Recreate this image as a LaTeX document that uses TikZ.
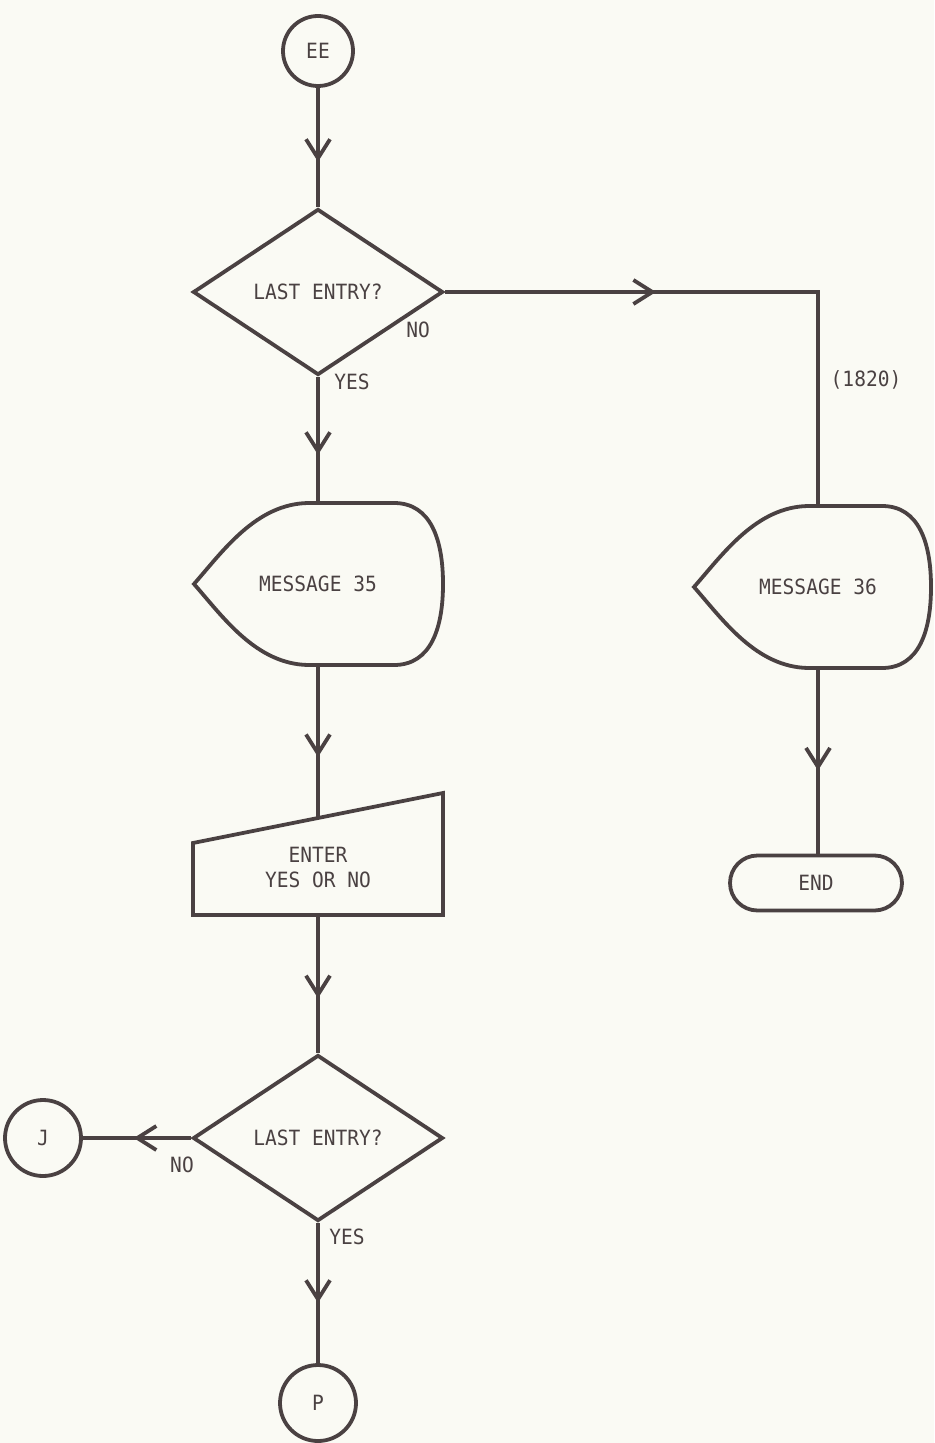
\documentclass[tikz,border=0pt]{standalone}
\usepackage{fontspec}
\setmainfont{DejaVu Sans Mono}[FakeStretch=0.93]
\usepackage{tikz}
\usetikzlibrary{arrows.meta,shapes.geometric,shapes.misc,decorations.markings}

\definecolor{paper}{HTML}{FAFAF4}
\definecolor{ink}{HTML}{4A4142}

\tikzset{barb/.tip={Straight Barb[length=9.5pt,width=12pt]}}

% outline of a display box round a node, #2 = right half width
\newcommand{\msgoutline}[2]{%
  \draw[flow, shift={(#1.center)}]
    (-124,0) .. controls (-95,-33) and (-62,-80) .. (-10,-81)
    -- (#2-49,-81) .. controls (#2-12,-81) and (#2,-44) .. (#2,0)
    .. controls (#2,44) and (#2-12,81) .. (#2-49,81)
    -- (-10,81) .. controls (-62,80) and (-95,33) .. cycle;}

\begin{document}
\begin{tikzpicture}[x=0.5pt,y=-0.5pt,
	flow/.style={draw=ink,line width=1.9pt},
	every node/.append style={text=ink,font=\fontsize{10.5}{12.5}\selectfont},
	conn/.style={circle,flow,minimum size=#1,inner sep=0pt},
	decision/.style={diamond,flow,minimum width=125pt,minimum height=83pt,inner sep=0pt},
	msgbox/.style={minimum height=#1,inner sep=0pt},
	inbox/.style={align=center,minimum height=48.5pt,inner sep=0pt},
	term/.style={rounded rectangle,flow,minimum width=86pt,minimum height=27.5pt,inner sep=0pt},
	lbl/.style={inner sep=1pt},
	midarrow/.style={postaction={decorate},
		decoration={markings,mark=at position #1 with {\arrow{barb}}}},
	midarrow/.default=0.6]
		\path[fill=paper,use as bounding box] (0,0) rectangle (934,1443);

		% left column
		\node[conn=35pt] (ee) at (318,51) {EE};
		\node[decision] (last1) at (318,292) {LAST ENTRY?};
		\node[msgbox=81pt] (msg35) at (318,584) {MESSAGE 35};
		\msgoutline{msg35}{125}
		\node[inbox] (enter) at (318,867) {ENTER\\YES OR NO};
		\draw[flow] (193,843) -- (443,793) -- (443,915) -- (193,915) -- cycle;
		\node[decision] (last2) at (318,1138) {LAST ENTRY?};
		\node[conn=38pt] (j) at (43,1138) {J};
		\node[conn=38pt] (p) at (318,1403) {P};

		% right column
		\coordinate (turn) at (818,292);
		\node[msgbox=81.5pt] (msg36) at (818,587) {MESSAGE 36};
		\msgoutline{msg36}{113}
		\node[term] (end) at (816,883) {END};

		% connectors
		\draw[flow,midarrow=0.62] (ee.south) -- (last1.north);
		\draw[flow,midarrow=0.62] (last1.south) -- (msg35.north);
		\draw[flow,midarrow] (msg35.south) -- (enter.north);
		\draw[flow,midarrow] (enter.south) -- (last2.north);
		\draw[flow,midarrow=0.53] (last2.west) -- (j.east);
		\draw[flow,midarrow=0.57] (last2.south) -- (p.north);
		\draw[flow,midarrow=0.36] (last1.east) -- (turn) -- (msg36.north);
		\draw[flow,midarrow=0.55] (msg36.south) -- (msg36.south |- end.north);

		% labels
		\node[lbl] (no1) at (418,330) {NO};
		\node[lbl] (yes1) at (352,382) {YES};
		\node[lbl] (ref) at (866,380) {(1820)};
		\node[lbl] (no2) at (182,1165) {NO};
		\node[lbl] (yes2) at (347,1237) {YES};
\end{tikzpicture}
\end{document}
